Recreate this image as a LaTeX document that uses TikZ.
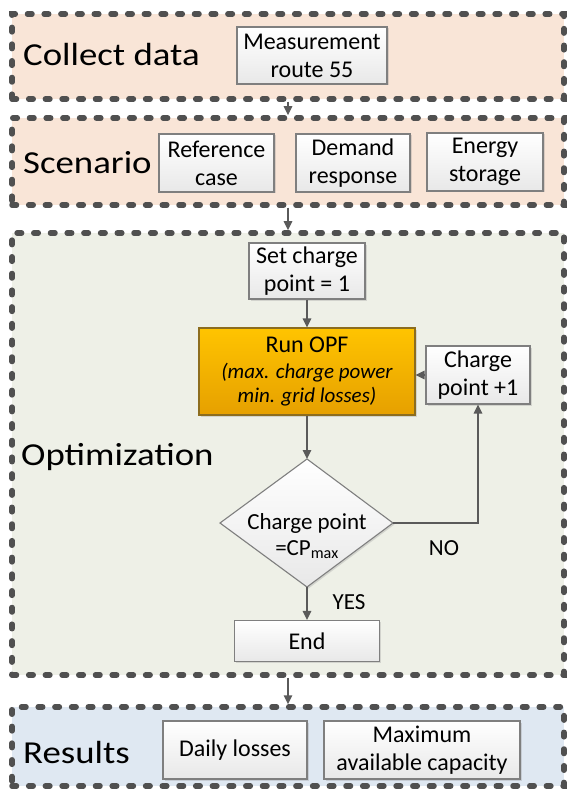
\documentclass[tikz,border=0pt]{standalone}
\usepackage{fontspec}
\setmainfont{Carlito}
\newfontfamily\labelfont[FakeStretch=1.15]{Carlito}
\usetikzlibrary{arrows.meta,shadows}
\definecolor{peach}{HTML}{F9E5D7}
\definecolor{optbg}{HTML}{EEF0E7}
\definecolor{resbg}{HTML}{DFE8F2}
\definecolor{dashgray}{HTML}{505050}
\definecolor{linegray}{HTML}{5A5A5A}
\definecolor{boxborder}{HTML}{7F7F7F}
\definecolor{opftop}{HTML}{FFC400}
\definecolor{opfbot}{HTML}{E6A000}
\definecolor{opfborder}{HTML}{8C6D1F}
\tikzset{
  panel/.style={draw=dashgray, line width=5.5pt, dash pattern=on 4.5pt off 12.2pt, line cap=round,
    rectangle, minimum width=552pt, inner sep=0pt},
  plabel/.style={anchor=base west, inner sep=0pt, font=\labelfont\fontsize{32}{36}\selectfont},
  wbox/.style={draw=boxborder, line width=1.1pt, top color=white, bottom color=black!9,
    rectangle, inner sep=0pt, align=center, font=\fontsize{24}{28}\selectfont,
    drop shadow={shadow xshift=1.5pt, shadow yshift=-1.5pt, opacity=0.25, fill=black!50}},
  conn/.style={draw=linegray, line width=1.5pt, -{Triangle[length=9pt,width=8.5pt]}},
  small/.style={font=\fontsize{23}{26}\selectfont, inner sep=0pt}
}
\begin{document}
\begin{tikzpicture}[x=1pt,y=-1pt]
\useasboundingbox[fill=white] (0,0) rectangle (568,794);
% panels
\node[panel, fill=peach, minimum height=85pt] (p1) at (288,56.5) {};
\node[panel, fill=peach, minimum height=87pt] (p2) at (288,161.5) {};
\node[panel, fill=optbg, minimum height=442pt] (p3) at (288,454) {};
\node[panel, fill=resbg, minimum height=79pt] (p4) at (288,746.5) {};
% panel labels
\node[plabel] (l1) at (23,66) {Collect data};
\node[plabel] (l2) at (23,174) {Scenario};
\node[plabel] (l3) at (21,465) {Optimization};
\node[plabel] (l4) at (23,763) {Results};
% boxes
\node[wbox, minimum width=150pt, minimum height=57pt] (meas) at (312,55.5) {Measurement\\route 55};
\node[wbox, minimum width=115pt, minimum height=58pt] (ref) at (216.5,163) {Reference\\case};
\node[wbox, minimum width=114pt, minimum height=58pt] (dem) at (353,163) {Demand\\response};
\node[wbox, minimum width=116pt, minimum height=58pt] (ene) at (485,162) {Energy\\storage};
\node[wbox, minimum width=116pt, minimum height=56pt] (setcp) at (307,271) {Set charge\\point = 1};
\node[wbox, draw=opfborder, top color=opftop, bottom color=opfbot, minimum width=216pt, minimum height=87pt] (opf) at (307,371.5)
  {Run OPF\\[-2pt]{\fontsize{21}{23}\selectfont\itshape (max. charge power}\\[-4pt]{\fontsize{21}{23}\selectfont\itshape min. grid losses)}};
\node[wbox, minimum width=104pt, minimum height=58pt] (cpp) at (478,375) {Charge\\point +1};
% diamond
\coordinate (dN) at (307,459);
\coordinate (dS) at (307,587);
\coordinate (dE) at (393,523);
\coordinate (dW) at (220,523);
\path[draw=boxborder, line width=1.1pt, top color=white, bottom color=black!9,
  drop shadow={shadow xshift=1.5pt, shadow yshift=-1.5pt, opacity=0.25, fill=black!50}]
  (dW) -- (dN) -- (dE) -- (dS) -- cycle;
\node[align=center, inner sep=0pt, font=\fontsize{23}{26}\selectfont] (dtext) at (307,536) {Charge point\\=CP\textsubscript{max}};
\node[wbox, minimum width=145pt, minimum height=41pt] (end) at (307,641) {End};
\node[wbox, minimum width=144pt, minimum height=58pt] (daily) at (235,750) {Daily losses};
\node[wbox, minimum width=196pt, minimum height=58pt] (maxc) at (422,750) {Maximum\\available capacity};
% labels
\node[small] (yes) at (349,602) {YES};
\node[small] (no) at (444,548) {NO};
% connectors
\draw[conn] (p1.south) -- (p2.north);
\draw[conn] (p2.south) -- (p3.north);
\draw[conn] (p3.south) -- (p4.north);
\draw[conn] (setcp.south) -- (opf.north);
\draw[conn] (opf.south) -- (dN);
\draw[conn] (dS) -- (end.north);
\draw[conn] (dE) -| (cpp.south);
\draw[conn] (cpp.west) -- (cpp.west -| opf.east);
\end{tikzpicture}
\end{document}
